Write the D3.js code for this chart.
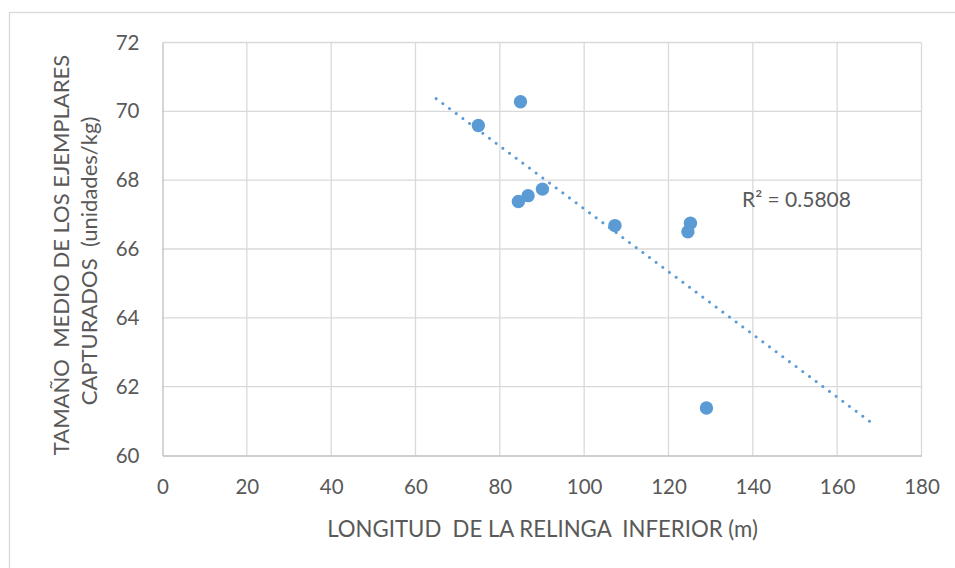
<!DOCTYPE html>
<html>
<head>
<meta charset="utf-8">
<script src="https://cdn.jsdelivr.net/npm/d3@7"></script>
<style>
  html, body { margin: 0; padding: 0; background: #fff; }
  svg text { font-family: Lato, "Noto Sans", sans-serif; fill: #595959; white-space: pre; }
</style>
</head>
<body>
<svg id="chart" width="955" height="568"></svg>
<script>
// Data
const longitud = [74.9, 84.9, 84.4, 86.7, 90.1, 107.3, 125.2, 124.6, 129.0];
const tamano   = [69.59, 70.28, 67.38, 67.55, 67.74, 66.68, 66.75, 66.50, 61.38];
const xTicks = [0, 20, 40, 60, 80, 100, 120, 140, 160, 180];
const yTicks = [60, 62, 64, 66, 68, 70, 72];
const xTitle = "LONGITUD  DE LA RELINGA  INFERIOR (m)";
const yTitleLines = ["TAMAÑO  MEDIO DE LOS EJEMPLARES", "CAPTURADOS  (unidades/kg)"];
const r2Label = "R² = 0.5808";
const trendBackward = 10, trendForward = 40;

const svg = d3.select("#chart");
const W = 955, H = 568;
const m = { left: 162.5, right: 921.5, top: 42.5, bottom: 455.5 };

// outer chart border
svg.append("rect").attr("x", 9.5).attr("y", 12.5).attr("width", W).attr("height", H)
  .attr("fill", "none").attr("stroke", "#d9d9d9").attr("stroke-width", 1.3);

const x = d3.scaleLinear().domain([0, 180]).range([m.left, m.right]);
const y = d3.scaleLinear().domain([60, 72]).range([m.bottom, m.top]);

// gridlines
const grid = svg.append("g");
grid.selectAll("line.v").data(xTicks.slice(1)).join("line")
  .attr("x1", d => x(d)).attr("x2", d => x(d)).attr("y1", m.top).attr("y2", m.bottom)
  .attr("stroke", "#d9d9d9").attr("stroke-width", 1.3);
grid.selectAll("line.h").data(yTicks.slice(1)).join("line")
  .attr("y1", d => y(d)).attr("y2", d => y(d)).attr("x1", m.left).attr("x2", m.right)
  .attr("stroke", "#d9d9d9").attr("stroke-width", 1.3);

// axes
const xAxis = svg.append("g").attr("transform", `translate(0,${m.bottom})`)
  .call(d3.axisBottom(x).tickValues(xTicks).tickSize(0).tickPadding(24));
const yAxis = svg.append("g").attr("transform", `translate(${m.left},0)`)
  .call(d3.axisLeft(y).tickValues(yTicks).tickSize(0).tickPadding(23));
[xAxis, yAxis].forEach(a => {
  a.select(".domain").attr("stroke", "#bfbfbf").attr("stroke-width", 1.3);
  a.selectAll("text").attr("font-size", 20.5).attr("fill", "#595959")
    .attr("font-family", "Lato, 'Noto Sans', sans-serif");
});

// trendline (least squares)
const n = longitud.length;
const mx = d3.mean(longitud), my = d3.mean(tamano);
let sxy = 0, sxx = 0;
for (let i = 0; i < n; i++) { sxy += (longitud[i]-mx)*(tamano[i]-my); sxx += (longitud[i]-mx)**2; }
const slope = sxy / sxx, icpt = my - slope * mx;
const x0 = d3.min(longitud) - trendBackward, x1 = d3.max(longitud) + trendForward;
svg.append("line")
  .attr("x1", x(x0)).attr("y1", y(icpt + slope*x0))
  .attr("x2", x(x1)).attr("y2", y(icpt + slope*x1))
  .attr("stroke", "#5b9bd5").attr("stroke-width", 3)
  .attr("stroke-linecap", "round").attr("stroke-dasharray", "0.01 8.3");

// points
svg.append("g").selectAll("circle").data(longitud.map((d, i) => [d, tamano[i]])).join("circle")
  .attr("cx", d => x(d[0])).attr("cy", d => y(d[1])).attr("r", 6.7)
  .attr("fill", "#5b9bd5");

// R² label
svg.append("text").attr("x", 742).attr("y", 207).attr("font-size", 21).text(r2Label);

// axis titles
svg.append("text").attr("x", 542.5).attr("y", 537).attr("text-anchor", "middle")
  .attr("font-size", 22.2).text(xTitle);
const yCenters = [255, 261];
yTitleLines.forEach((t, i) =>
  svg.append("text").attr("transform", `translate(0,${yCenters[i]}) rotate(-90)`)
    .attr("text-anchor", "middle").attr("font-size", 22)
    .attr("x", 0).attr("y", 69 + i*28).text(t));
</script>
</body>
</html>
